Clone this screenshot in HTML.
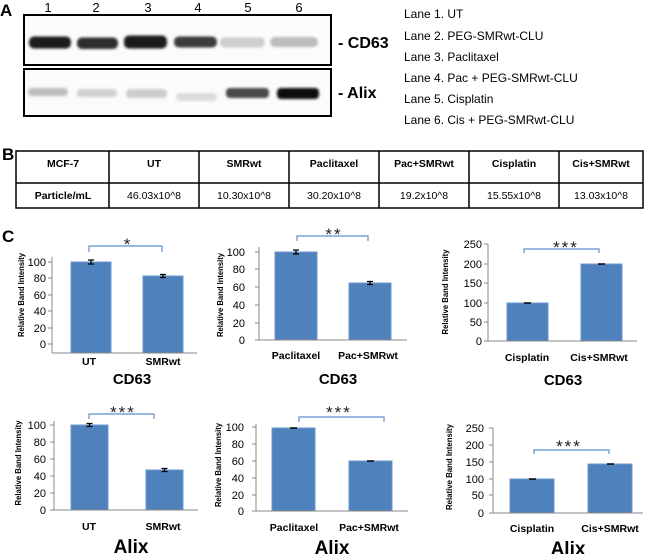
<!DOCTYPE html>
<html><head><meta charset="utf-8"><style>
html,body{margin:0;padding:0;background:#fff;}
svg{display:block;}
text{font-family:"Liberation Sans",Arial,sans-serif;}
</style></head><body>
<svg width="650" height="554" viewBox="0 0 650 554" xmlns="http://www.w3.org/2000/svg">
<defs>
<filter id="bl" x="-20%" y="-60%" width="140%" height="220%"><feGaussianBlur stdDeviation="1.4"/></filter>
</defs>
<rect width="650" height="554" fill="#fff"/>

<!-- Panel A -->
<text x="0" y="16" font-size="17" font-weight="bold">A</text>
<g font-size="13" text-anchor="middle">
<text x="48" y="12">1</text><text x="96" y="12">2</text><text x="148" y="12">3</text>
<text x="198" y="12">4</text><text x="248" y="12">5</text><text x="299" y="12">6</text>
</g>
<rect x="24" y="15" width="307" height="50" fill="#fbfbfb" stroke="#000" stroke-width="2"/>
<rect x="24" y="69" width="307" height="47" fill="#fbfbfb" stroke="#000" stroke-width="2"/>
<g filter="url(#bl)">
<rect x="29" y="36.5" width="42" height="12" rx="5" fill="#1c1c1c"/>
<rect x="77" y="37.5" width="41" height="11.5" rx="5" fill="#2e2e2e"/>
<rect x="124" y="35.5" width="43" height="13" rx="5" fill="#1c1c1c"/>
<rect x="174" y="36.5" width="43" height="11" rx="5" fill="#3a3a3a"/>
<rect x="220" y="37.5" width="45" height="10" rx="5" fill="#cdcdcd"/>
<rect x="270" y="37" width="48" height="10" rx="5" fill="#bcbcbc"/>
<rect x="28" y="88" width="40" height="8" rx="4" fill="#bdbdbd"/>
<rect x="77" y="89" width="40" height="8" rx="4" fill="#d0d0d0"/>
<rect x="126" y="89" width="41" height="9" rx="4" fill="#cdcdcd"/>
<rect x="176" y="93" width="41" height="8" rx="4" fill="#dcdcdc"/>
<rect x="226" y="88" width="43" height="10" rx="4" fill="#4a4a4a"/>
<rect x="277" y="88" width="42" height="11" rx="4" fill="#101010"/>
</g>
<g font-size="16" font-weight="bold">
<text x="338" y="48">- CD63</text>
<text x="338" y="98">- Alix</text>
</g>
<g font-size="12">
<text x="404" y="18">Lane 1. UT</text>
<text x="404" y="40">Lane 2. PEG-SMRwt-CLU</text>
<text x="404" y="61">Lane 3. Paclitaxel</text>
<text x="404" y="82">Lane 4. Pac + PEG-SMRwt-CLU</text>
<text x="404" y="103">Lane 5. Cisplatin</text>
<text x="404" y="124">Lane 6. Cis + PEG-SMRwt-CLU</text>
</g>

<!-- Panel B -->
<text x="2" y="160" font-size="17" font-weight="bold">B</text>
<g stroke="#000" stroke-width="1.5" fill="none">
<rect x="16" y="151" width="627" height="57"/>
<line x1="16" y1="183" x2="643" y2="183"/>
<line x1="109" y1="151" x2="109" y2="208"/>
<line x1="199" y1="151" x2="199" y2="208"/>
<line x1="289" y1="151" x2="289" y2="208"/>
<line x1="379" y1="151" x2="379" y2="208"/>
<line x1="469" y1="151" x2="469" y2="208"/>
<line x1="559" y1="151" x2="559" y2="208"/>
</g>
<g font-size="10.5" font-weight="bold" text-anchor="middle">
<text x="63" y="167">MCF-7</text>
<text x="154" y="167">UT</text>
<text x="244" y="167">SMRwt</text>
<text x="334" y="167">Paclitaxel</text>
<text x="424" y="167">Pac+SMRwt</text>
<text x="514" y="167">Cisplatin</text>
<text x="601" y="167">Cis+SMRwt</text>
<text x="63" y="199">Particle/mL</text>
</g>
<g font-size="10.5" text-anchor="middle">
<text x="154" y="199">46.03x10^8</text>
<text x="244" y="199">10.30x10^8</text>
<text x="334" y="199">30.20x10^8</text>
<text x="424" y="199">19.2x10^8</text>
<text x="514" y="199">15.55x10^8</text>
<text x="601" y="199">13.03x10^8</text>
</g>

<!-- Panel C -->
<text x="2" y="242" font-size="17" font-weight="bold">C</text>

<!-- Chart 1 -->
<g>
<text transform="translate(24,295) rotate(-90)" font-size="8" font-weight="bold" text-anchor="middle" textLength="84" lengthAdjust="spacingAndGlyphs">Relative Band Intensity</text>
<g font-size="11" text-anchor="end">
<text x="46" y="266">100</text><text x="46" y="282">80</text><text x="46" y="299">60</text>
<text x="46" y="315">40</text><text x="46" y="332">20</text><text x="46" y="348">0</text>
</g>
<rect x="71" y="262" width="40" height="91" fill="#4f81bd" stroke="#6d97cf" stroke-width="1"/>
<rect x="143" y="276" width="40" height="77" fill="#4f81bd" stroke="#6d97cf" stroke-width="1"/>
<g stroke="#888" stroke-width="1">
<line x1="52" y1="257" x2="52" y2="353"/><line x1="52" y1="353" x2="197" y2="353"/>
<line x1="48" y1="262" x2="52" y2="262"/><line x1="48" y1="278" x2="52" y2="278"/><line x1="48" y1="295" x2="52" y2="295"/>
<line x1="48" y1="311" x2="52" y2="311"/><line x1="48" y1="328" x2="52" y2="328"/><line x1="48" y1="344" x2="52" y2="344"/>
</g>
<g stroke="#000" stroke-width="1.3">
<path d="M91 260v4M88 260h6M88 264h6"/>
<path d="M163 274.5v3M160 274.5h6M160 277.5h6"/>
</g>
<path d="M89 252V246H162V252" fill="none" stroke="#5b8fd0" stroke-width="1.2"/>
<text x="127" y="250" font-size="17" text-anchor="middle" fill="#222">*</text>
<g font-size="10.5" font-weight="bold" text-anchor="middle">
<text x="89" y="365">UT</text><text x="163" y="365">SMRwt</text>
</g>
<text x="132" y="384" font-size="15" font-weight="bold" text-anchor="middle">CD63</text>
</g>

<!-- Chart 2 -->
<g>
<text transform="translate(223,295) rotate(-90)" font-size="8" font-weight="bold" text-anchor="middle" textLength="84" lengthAdjust="spacingAndGlyphs">Relative Band Intensity</text>
<g font-size="11" text-anchor="end">
<text x="245" y="256">100</text><text x="245" y="273">80</text><text x="245" y="291">60</text>
<text x="245" y="309">40</text><text x="245" y="327">20</text><text x="245" y="344">0</text>
</g>
<rect x="275" y="252" width="42" height="88" fill="#4f81bd" stroke="#6d97cf" stroke-width="1"/>
<rect x="349" y="283" width="42" height="57" fill="#4f81bd" stroke="#6d97cf" stroke-width="1"/>
<g stroke="#888" stroke-width="1">
<line x1="259" y1="247" x2="259" y2="340"/><line x1="259" y1="340" x2="407" y2="340"/>
<line x1="255" y1="252" x2="259" y2="252"/><line x1="255" y1="269" x2="259" y2="269"/><line x1="255" y1="287" x2="259" y2="287"/>
<line x1="255" y1="305" x2="259" y2="305"/><line x1="255" y1="323" x2="259" y2="323"/><line x1="255" y1="340" x2="259" y2="340"/>
</g>
<g stroke="#000" stroke-width="1.3">
<path d="M296 250v4M293 250h6M293 254h6"/>
<path d="M370 281.5v3M367 281.5h6M367 284.5h6"/>
</g>
<path d="M297 241V236H368V241" fill="none" stroke="#5b8fd0" stroke-width="1.2"/>
<text x="334" y="240" font-size="17" text-anchor="middle" fill="#222" letter-spacing="2">**</text>
<g font-size="10.5" font-weight="bold" text-anchor="middle">
<text x="296" y="359">Paclitaxel</text><text x="368" y="359">Pac+SMRwt</text>
</g>
<text x="338" y="384" font-size="15" font-weight="bold" text-anchor="middle">CD63</text>
</g>

<!-- Chart 3 -->
<g>
<text transform="translate(448,292) rotate(-90)" font-size="8" font-weight="bold" text-anchor="middle" textLength="85" lengthAdjust="spacingAndGlyphs">Relative Band Intensity</text>
<g font-size="11" text-anchor="end">
<text x="482" y="248">250</text><text x="482" y="268">200</text><text x="482" y="287">150</text>
<text x="482" y="307">100</text><text x="482" y="326">50</text><text x="482" y="345">0</text>
</g>
<rect x="507" y="303" width="41" height="38" fill="#4f81bd" stroke="#6d97cf" stroke-width="1"/>
<rect x="581" y="264" width="41" height="77" fill="#4f81bd" stroke="#6d97cf" stroke-width="1"/>
<g stroke="#888" stroke-width="1">
<line x1="488" y1="244" x2="488" y2="341"/><line x1="488" y1="341" x2="637" y2="341"/>
<line x1="484" y1="244" x2="488" y2="244"/><line x1="484" y1="264" x2="488" y2="264"/><line x1="484" y1="283" x2="488" y2="283"/>
<line x1="484" y1="303" x2="488" y2="303"/><line x1="484" y1="322" x2="488" y2="322"/><line x1="484" y1="341" x2="488" y2="341"/>
</g>
<g stroke="#000" stroke-width="1.5">
<path d="M524 303h7"/>
<path d="M598 264h7"/>
</g>
<path d="M524 253V249H599V253" fill="none" stroke="#5b8fd0" stroke-width="1.2"/>
<text x="566" y="253" font-size="17" text-anchor="middle" fill="#222" letter-spacing="2">***</text>
<g font-size="10.5" font-weight="bold" text-anchor="middle">
<text x="527" y="361">Cisplatin</text><text x="599" y="361">Cis+SMRwt</text>
</g>
<text x="563" y="385" font-size="15" font-weight="bold" text-anchor="middle">CD63</text>
</g>

<!-- Chart 4 -->
<g>
<text transform="translate(21,463) rotate(-90)" font-size="8" font-weight="bold" text-anchor="middle" textLength="85" lengthAdjust="spacingAndGlyphs">Relative Band Intensity</text>
<g font-size="11" text-anchor="end">
<text x="46" y="429">100</text><text x="46" y="446">80</text><text x="46" y="463">60</text>
<text x="46" y="480">40</text><text x="46" y="497">20</text><text x="46" y="514">0</text>
</g>
<rect x="71" y="425" width="37" height="85" fill="#4f81bd" stroke="#6d97cf" stroke-width="1"/>
<rect x="146" y="470" width="37" height="40" fill="#4f81bd" stroke="#6d97cf" stroke-width="1"/>
<g stroke="#888" stroke-width="1">
<line x1="54" y1="421" x2="54" y2="510"/><line x1="54" y1="510" x2="198" y2="510"/>
<line x1="50" y1="425" x2="54" y2="425"/><line x1="50" y1="442" x2="54" y2="442"/><line x1="50" y1="459" x2="54" y2="459"/>
<line x1="50" y1="476" x2="54" y2="476"/><line x1="50" y1="493" x2="54" y2="493"/><line x1="50" y1="510" x2="54" y2="510"/>
</g>
<g stroke="#000" stroke-width="1.3">
<path d="M89.5 423.5v3M86.5 423.5h6M86.5 426.5h6"/>
<path d="M164.5 468.5v3M161.5 468.5h6M161.5 471.5h6"/>
</g>
<path d="M89 419V414H154V419" fill="none" stroke="#5b8fd0" stroke-width="1.2"/>
<text x="123" y="418" font-size="17" text-anchor="middle" fill="#222" letter-spacing="2">***</text>
<g font-size="10.5" font-weight="bold" text-anchor="middle">
<text x="89" y="530">UT</text><text x="163" y="530">SMRwt</text>
</g>
<text x="131" y="553" font-size="19" font-weight="bold" text-anchor="middle">Alix</text>
</g>

<!-- Chart 5 -->
<g>
<text transform="translate(221,465) rotate(-90)" font-size="8" font-weight="bold" text-anchor="middle" textLength="84" lengthAdjust="spacingAndGlyphs">Relative Band Intensity</text>
<g font-size="11" text-anchor="end">
<text x="244" y="431">100</text><text x="244" y="448">80</text><text x="244" y="465">60</text>
<text x="244" y="482">40</text><text x="244" y="499">20</text><text x="244" y="515">0</text>
</g>
<rect x="272" y="428" width="43" height="83" fill="#4f81bd" stroke="#6d97cf" stroke-width="1"/>
<rect x="349" y="461" width="43" height="50" fill="#4f81bd" stroke="#6d97cf" stroke-width="1"/>
<g stroke="#888" stroke-width="1">
<line x1="256" y1="424" x2="256" y2="511"/><line x1="256" y1="511" x2="408" y2="511"/>
<line x1="252" y1="427" x2="256" y2="427"/><line x1="252" y1="444" x2="256" y2="444"/><line x1="252" y1="461" x2="256" y2="461"/>
<line x1="252" y1="478" x2="256" y2="478"/><line x1="252" y1="495" x2="256" y2="495"/><line x1="252" y1="511" x2="256" y2="511"/>
</g>
<g stroke="#000" stroke-width="1.5">
<path d="M290 428h7"/>
<path d="M367 461h7"/>
</g>
<path d="M299 422V417H384V422" fill="none" stroke="#5b8fd0" stroke-width="1.2"/>
<text x="339" y="418" font-size="17" text-anchor="middle" fill="#222" letter-spacing="2">***</text>
<g font-size="10.5" font-weight="bold" text-anchor="middle">
<text x="294" y="531">Paclitaxel</text><text x="369" y="531">Pac+SMRwt</text>
</g>
<text x="332" y="554" font-size="19" font-weight="bold" text-anchor="middle">Alix</text>
</g>

<!-- Chart 6 -->
<g>
<text transform="translate(452,467) rotate(-90)" font-size="8" font-weight="bold" text-anchor="middle" textLength="86" lengthAdjust="spacingAndGlyphs">Relative Band Intensity</text>
<g font-size="11" text-anchor="end">
<text x="484" y="432">250</text><text x="484" y="449">200</text><text x="484" y="466">150</text>
<text x="484" y="483">100</text><text x="484" y="499">50</text><text x="484" y="517">0</text>
</g>
<rect x="510" y="479" width="44" height="34" fill="#4f81bd" stroke="#6d97cf" stroke-width="1"/>
<rect x="588" y="464" width="44" height="49" fill="#4f81bd" stroke="#6d97cf" stroke-width="1"/>
<g stroke="#888" stroke-width="1">
<line x1="493" y1="428" x2="493" y2="513"/><line x1="493" y1="513" x2="643" y2="513"/>
<line x1="489" y1="428" x2="493" y2="428"/><line x1="489" y1="445" x2="493" y2="445"/><line x1="489" y1="462" x2="493" y2="462"/>
<line x1="489" y1="479" x2="493" y2="479"/><line x1="489" y1="495" x2="493" y2="495"/><line x1="489" y1="513" x2="493" y2="513"/>
</g>
<g stroke="#000" stroke-width="1.5">
<path d="M529 479h7"/>
<path d="M607 464h7"/>
</g>
<path d="M534 454V450H609V454" fill="none" stroke="#5b8fd0" stroke-width="1.2"/>
<text x="569" y="452" font-size="17" text-anchor="middle" fill="#222" letter-spacing="2">***</text>
<g font-size="10.5" font-weight="bold" text-anchor="middle">
<text x="532" y="532">Cisplatin</text><text x="610" y="532">Cis+SMRwt</text>
</g>
<text x="568" y="555" font-size="19" font-weight="bold" text-anchor="middle">Alix</text>
</g>
</svg>
</body></html>
